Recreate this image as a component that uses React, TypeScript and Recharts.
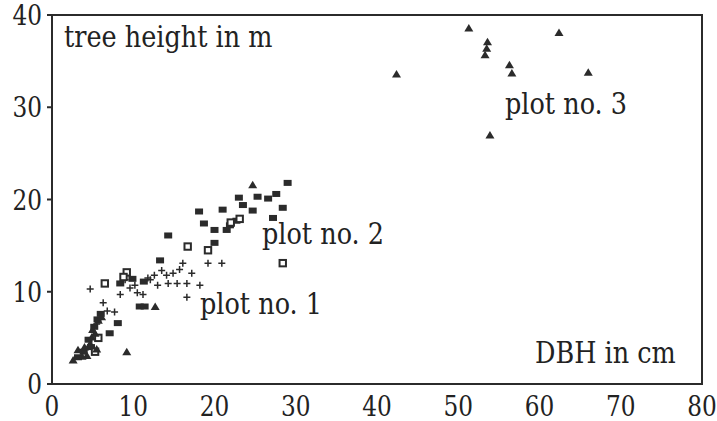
import {
  ScatterChart,
  Scatter,
  XAxis,
  YAxis,
  ReferenceArea,
} from 'recharts';

// plot no. 1 (crosses)
const plot1 = [
  [4.7, 10.3], [6.3, 8.8], [7.7, 7.8], [6.8, 7.9], [8.4, 9.7], [9.6, 10.4],
  [10.2, 10.7], [10.5, 9.9], [11.2, 9.7], [12.1, 11.3], [13.0, 10.7],
  [13.5, 12.3], [14.1, 11.8], [14.3, 10.9], [14.9, 12.0], [15.4, 10.9],
  [15.7, 12.4], [16.1, 13.1], [16.6, 10.9], [16.6, 9.4], [17.2, 12.0],
  [18.2, 10.7], [19.2, 13.1], [20.9, 13.1], [5.5, 6.5], [11.8, 11.5],
  [9.0, 11.3], [12.6, 11.8],
];

// plot no. 2 (filled squares)
const plot2 = [
  [29.0, 21.8], [27.6, 20.6], [25.3, 20.3], [26.6, 20.1], [23.0, 20.2],
  [23.5, 19.4], [24.7, 18.8], [28.4, 19.1], [18.1, 18.7], [21.0, 18.9],
  [27.2, 18.0], [22.7, 17.7], [21.9, 17.2], [21.5, 16.7], [20.0, 16.7],
  [18.7, 17.4], [14.3, 16.1], [20.0, 15.3], [13.3, 13.4], [10.8, 8.4],
  [11.4, 8.4], [8.1, 6.6], [7.1, 5.5], [8.4, 10.9], [9.9, 11.4],
  [11.3, 11.1], [6.0, 7.6], [5.2, 6.2], [4.5, 4.8], [3.9, 3.5], [3.2, 2.9],
  [5.6, 7.0], [4.8, 4.0],
];

// plot no. 2 (open squares)
const plot2open = [
  [9.2, 12.1], [6.5, 10.9], [16.7, 14.9], [19.2, 14.5], [23.1, 17.9],
  [28.4, 13.1], [5.7, 5.0], [5.3, 3.5], [8.8, 11.6], [22.0, 17.5],
];

// plot no. 3 (triangles)
const plot3 = [
  [42.4, 33.6], [51.3, 38.6], [53.6, 37.1], [53.5, 36.4], [53.3, 35.7],
  [56.3, 34.6], [56.6, 33.7], [62.4, 38.1], [66.0, 33.8], [53.9, 27.0],
  [24.7, 21.6], [12.7, 8.4], [9.2, 3.5], [2.6, 2.6], [3.2, 3.7], [4.3, 3.1],
  [4.7, 4.4], [4.9, 5.1], [5.0, 5.9], [5.7, 6.9], [6.1, 7.3], [3.7, 3.0],
  [5.5, 3.8], [4.0, 4.0], [5.3, 5.5],
];

const xTicks = [0, 10, 20, 30, 40, 50, 60, 70, 80];
const yTicks = [0, 10, 20, 30, 40];

const toPoints = (arr: number[][]) => arr.map(([x, y]) => ({ x, y }));

const INK = '#2b2b2b';
// only serif face in the sandbox; squeezed horizontally to look like Times
const FONT = "'DejaVu Serif', serif";

const Cross = (p: any) => (
  <path
    d={`M${p.cx - 3.5},${p.cy}H${p.cx + 3.5}M${p.cx},${p.cy - 3.5}V${p.cy + 3.5}`}
    stroke={INK}
    strokeWidth={1.5}
  />
);
const Square = (p: any) => (
  <rect x={p.cx - 4} y={p.cy - 3} width={8} height={6} fill={INK} />
);
const OpenSquare = (p: any) => (
  <rect x={p.cx - 3.2} y={p.cy - 3.2} width={6.4} height={6.4} fill="#fff" stroke={INK} strokeWidth={2} />
);
const Triangle = (p: any) => (
  <polygon
    points={`${p.cx - 4.5},${p.cy + 3.5} ${p.cx + 4.5},${p.cy + 3.5} ${p.cx},${p.cy - 4}`}
    fill={INK}
  />
);

const XTick = (p: any) => (
  <g transform={`translate(${p.x},${p.y + 32}) scale(0.86,1)`}>
    <text x={0} y={0} textAnchor="middle" fill="#222" fontSize={27} fontFamily={FONT}>
      {p.payload.value}
    </text>
  </g>
);
const YTick = (p: any) => (
  <g transform={`translate(${p.x},${p.y + 10}) scale(0.86,1)`}>
    <text x={0} y={0} textAnchor="end" fill="#222" fontSize={27} fontFamily={FONT}>
      {p.payload.value}
    </text>
  </g>
);

const labelStyle = (left: number, top: number): React.CSSProperties => ({
  position: 'absolute',
  left,
  top,
  fontFamily: FONT,
  fontSize: 29,
  color: '#222',
  lineHeight: 1,
  whiteSpace: 'nowrap',
  transform: 'scaleX(0.88)',
  transformOrigin: '0 0',
});

export default function App() {
  return (
    <div style={{ position: 'absolute', left: 0, top: 0, width: 717, height: 421, background: '#fff' }}>
      <ScatterChart
        width={717}
        height={421}
        margin={{ top: 15, right: 15, bottom: 7, left: 12 }}
      >
        <XAxis
          type="number"
          dataKey="x"
          domain={[0, 80]}
          ticks={xTicks}
          interval={0}
          height={30}
          axisLine={{ stroke: INK, strokeWidth: 2 }}
          tickLine={false}
          tickSize={0}
          tickMargin={0}
          tick={XTick}
        />
        <YAxis
          type="number"
          dataKey="y"
          domain={[0, 40]}
          ticks={yTicks}
          interval={0}
          width={40}
          axisLine={{ stroke: INK, strokeWidth: 2 }}
          tickLine={{ stroke: INK, strokeWidth: 2 }}
          tickSize={5}
          tickMargin={5}
          tick={YTick}
        />
        <ReferenceArea x1={0} x2={80} y1={0} y2={40} fill="none" stroke={INK} strokeWidth={2} />
        <Scatter data={toPoints(plot1)} shape={Cross} isAnimationActive={false} />
        <Scatter data={toPoints(plot2)} shape={Square} isAnimationActive={false} />
        <Scatter data={toPoints(plot2open)} shape={OpenSquare} isAnimationActive={false} />
        <Scatter data={toPoints(plot3)} shape={Triangle} isAnimationActive={false} />
      </ScatterChart>
      <div style={labelStyle(64, 23)}>tree height in m</div>
      <div style={labelStyle(505, 90)}>plot no. 3</div>
      <div style={labelStyle(262, 220)}>plot no. 2</div>
      <div style={labelStyle(200, 290)}>plot no. 1</div>
      <div style={labelStyle(535, 339)}>DBH in cm</div>
    </div>
  );
}
